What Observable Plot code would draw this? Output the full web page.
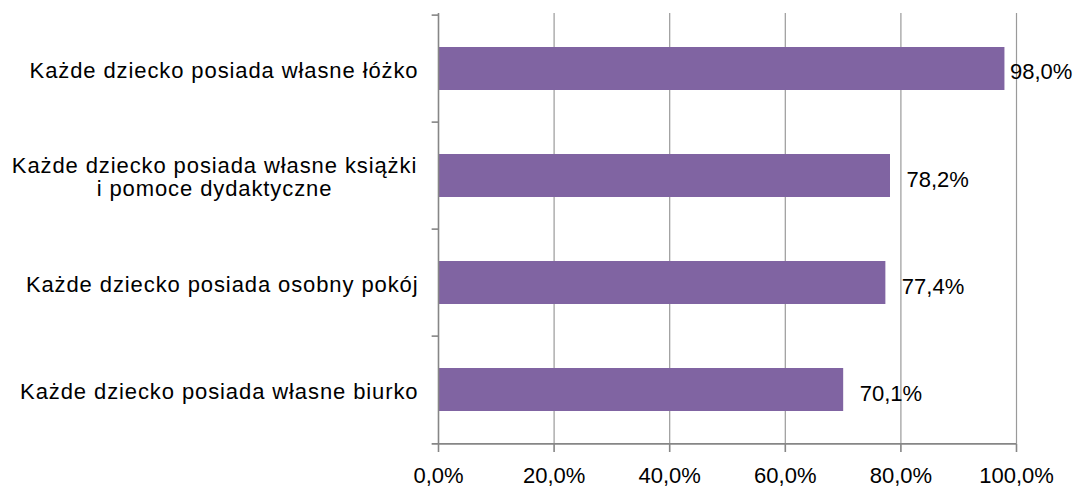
<!DOCTYPE html>
<html><head><meta charset="utf-8">
<script src="https://cdn.jsdelivr.net/npm/d3@7"></script>
<script src="https://cdn.jsdelivr.net/npm/@observablehq/plot@0.6"></script>
<style>body{margin:0;background:#fff}svg{display:block}</style>
</head><body><div id="chart"></div>
<script>
const categories = [
  "Każde dziecko posiada własne łóżko",
  "Każde dziecko posiada własne książki\ni pomoce dydaktyczne",
  "Każde dziecko posiada osobny pokój",
  "Każde dziecko posiada własne biurko"
];
const values = [98.0, 78.2, 77.4, 70.1];
const xTicks = [0, 20, 40, 60, 80, 100];

const data = categories.map((c, i) => ({cat: c, value: values[i]}));
const fmt = v => v.toFixed(1).replace(".", ",") + "%";

const W = 1078, H = 490, mt = 13, mb = 46;
const step = (H - mt - mb) / categories.length;
const font = "Liberation Sans, Arial, sans-serif";

const single = data.filter(d => !d.cat.includes("\n"));
const multi = data.filter(d => d.cat.includes("\n"));
const nearEdge = data.filter(d => d.value > 90);
const normal = data.filter(d => d.value <= 90);

const chart = Plot.plot({
  width: W, height: H,
  marginLeft: 438, marginRight: 62, marginTop: mt, marginBottom: mb,
  style: {fontFamily: font, fontSize: "22px", color: "#000", background: "#fff"},
  x: {domain: [0, 100], ticks: xTicks, tickFormat: fmt},
  y: {domain: categories, paddingInner: 0.6, paddingOuter: 0.3, axis: null},
  marks: [
    Plot.gridX(xTicks.filter(t => t > 0), {stroke: "#9a9a9a", strokeOpacity: 1, strokeWidth: 1.2}),
    Plot.barX(data, {x: "value", y: "cat", fill: "#8064A2"}),
    Plot.ruleX([0], {stroke: "#868686", strokeWidth: 1.6}),
    Plot.axisX({ticks: xTicks, tickFormat: fmt, tickSize: 8, tickPadding: 15, stroke: "#868686", strokeWidth: 1.6, fontSize: 22, fill: "#000", label: null}),
    Plot.ruleY(categories, {y: d => d, x1: -1.1, x2: 0, dy: -step/2, stroke: "#868686", strokeWidth: 1.6, clip: false}),
    Plot.ruleY([categories[categories.length-1]], {y: d => d, x1: -1.1, x2: 100, dy: step/2, stroke: "#868686", strokeWidth: 1.6, clip: false}),
    Plot.text(normal, {x: "value", y: "cat", text: d => fmt(d.value), textAnchor: "start", dx: 16, dy: 4, fontSize: 22, fill: "#000"}),
    Plot.text(nearEdge, {x: "value", y: "cat", text: d => fmt(d.value), textAnchor: "start", dx: 5, dy: 3, fontSize: 22, fill: "#000"}),
    Plot.text(single, {y: "cat", text: "cat", frameAnchor: "left", textAnchor: "end", dx: -20, dy: 1.5, fontSize: 22, fill: "#000"}),
    Plot.text(multi, {y: "cat", text: "cat", frameAnchor: "left", textAnchor: "middle", dx: -224, dy: 1, lineHeight: 1.06, fontSize: 22, fill: "#000"})
  ]
});
const flat = new Set(categories.map(c => c.replace("\n", "")));
d3.select(chart).selectAll("text")
  .filter(function() { return flat.has(this.textContent); })
  .attr("letter-spacing", "0.9px").style("letter-spacing", "0.9px");
document.getElementById("chart").append(chart);
</script></body></html>
